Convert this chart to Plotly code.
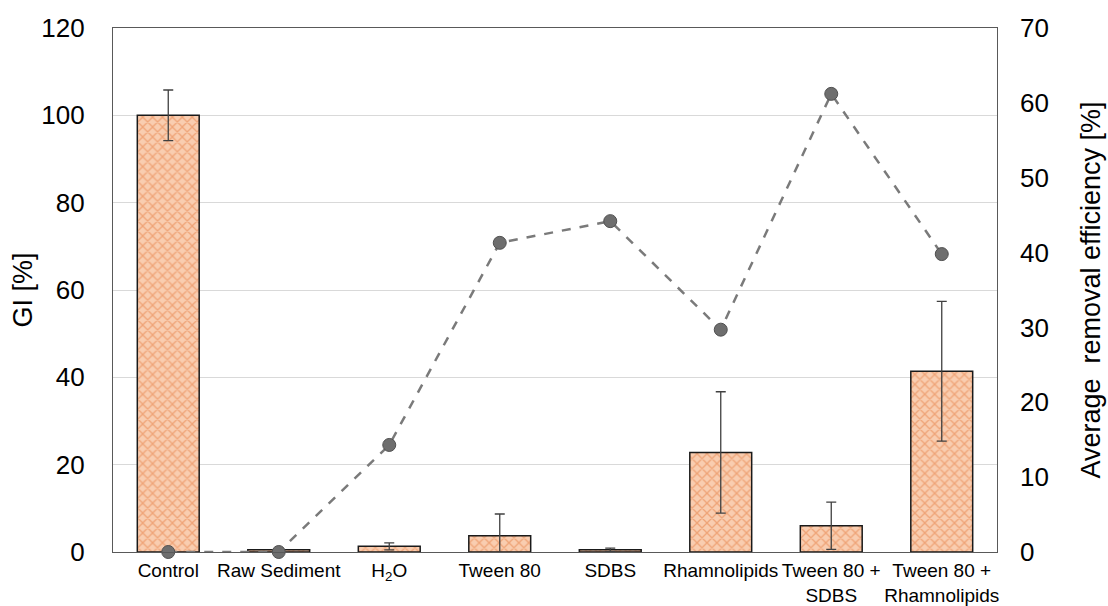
import plotly.graph_objects as go

categories = ["Control", "Raw Sediment", "H<sub>2</sub>O", "Tween 80", "SDBS",
              "Rhamnolipids", "Tween 80 +<br>SDBS", "Tween 80 +<br>Rhamnolipids"]
gi_values = [100.0, 0.5, 1.3, 3.7, 0.5, 22.8, 6.0, 41.4]
gi_errors = [5.8, 0.2, 0.8, 5.0, 0.4, 13.9, 5.4, 16.0]
removal_eff = [0.0, 0.0, 14.3, 41.3, 44.2, 29.7, 61.2, 39.8]

FONT = "Liberation Sans, Arial, sans-serif"

fig = go.Figure()
fig.add_trace(go.Bar(
    x=categories, y=gi_values,
    width=0.56,
    marker=dict(
        color="#F9CDB0",
        line=dict(color="#1a1a1a", width=1.5),
        pattern=dict(shape="x", fgcolor="#E57C3F", bgcolor="#F9CDB0", size=7, solidity=0.35),
    ),
    error_y=dict(type="data", array=gi_errors, color="#404040", thickness=1.3, width=5),
    showlegend=False,
))
fig.add_trace(go.Scatter(
    x=categories, y=removal_eff, yaxis="y2",
    mode="lines+markers",
    line=dict(color="#7a7a7a", width=2.5, dash="dash"),
    marker=dict(size=13, color="#6e6e6e", line=dict(color="#505050", width=1)),
    cliponaxis=False,
    showlegend=False,
))

fig.update_layout(
    width=1108, height=606,
    margin=dict(l=113, r=111, t=28, b=54),
    paper_bgcolor="white", plot_bgcolor="white",
    font=dict(family=FONT, color="#000000"),
    bargap=0.44,
    xaxis=dict(
        showline=True, linecolor="#595959", linewidth=1.3, mirror=True,
        tickfont=dict(size=19, family=FONT),
        ticks="", ticklabelstandoff=1,
        showgrid=False, automargin=False,
    ),
    yaxis=dict(
        range=[0, 120], dtick=20,
        showline=True, linecolor="#595959", linewidth=1.3, mirror=True,
        showgrid=True, gridcolor="#D9D9D9", gridwidth=1,
        zeroline=False, automargin=False,
        tickfont=dict(size=26, family=FONT),
        ticklabelstandoff=22,
        title=dict(text="GI [%]", font=dict(size=27, family=FONT), standoff=0),
    ),
    yaxis2=dict(
        range=[0, 70], dtick=10, overlaying="y", side="right",
        showgrid=False, zeroline=False, showline=False, automargin=False,
        tickfont=dict(size=26, family=FONT),
        ticklabelstandoff=22,
        title=dict(text="Average  removal efficiency [%]", font=dict(size=27, family=FONT), standoff=33),
    ),
)

fig.write_html("out.html")
